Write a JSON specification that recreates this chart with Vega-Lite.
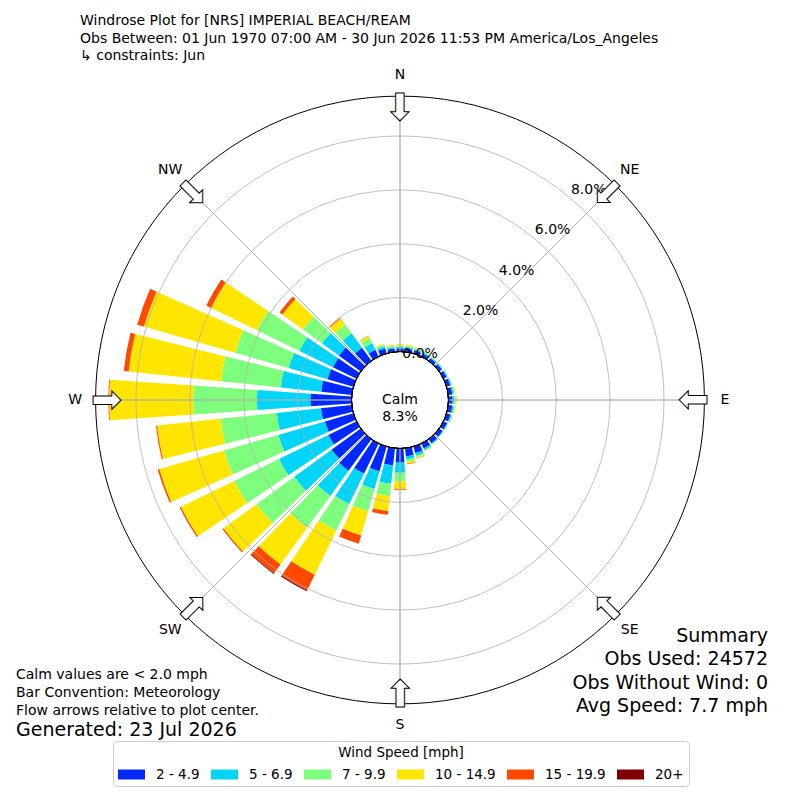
{
  "$schema": "https://vega.github.io/schema/vega-lite/v6.json",
  "width": 800,
  "height": 680,
  "padding": {"top": 60, "bottom": 60, "left": 0, "right": 0},
  "autosize": {"type": "none"},
  "background": "white",
  "config": {"view": {"stroke": null}, "font": "DejaVu Sans"},
  "title": {
    "text": ["Windrose Plot for [NRS] IMPERIAL BEACH/REAM", "Obs Between: 01 Jun 1970 07:00 AM - 30 Jun 2026 11:53 PM America/Los_Angeles", "\u2002↳ constraints: Jun"],
    "anchor": "start", "frame": "group", "dx": 80, "dy": 3, "offset": 0,
    "fontSize": 14, "fontWeight": "normal", "font": "DejaVu Sans", "color": "black", "lineHeight": 17.5
  },
  "datasets": {
    "wind": [
      {"dir": 0, "speed": "2 - 4.9", "pct": 0.12}, {"dir": 0, "speed": "5 - 6.9", "pct": 0.06}, {"dir": 0, "speed": "7 - 9.9", "pct": 0.04}, {"dir": 0, "speed": "10 - 14.9", "pct": 0.05},
      {"dir": 10, "speed": "2 - 4.9", "pct": 0.12}, {"dir": 10, "speed": "5 - 6.9", "pct": 0.06}, {"dir": 10, "speed": "7 - 9.9", "pct": 0.04}, {"dir": 10, "speed": "10 - 14.9", "pct": 0.04},
      {"dir": 20, "speed": "2 - 4.9", "pct": 0.12}, {"dir": 20, "speed": "5 - 6.9", "pct": 0.06}, {"dir": 20, "speed": "7 - 9.9", "pct": 0.03}, {"dir": 20, "speed": "10 - 14.9", "pct": 0.03},
      {"dir": 30, "speed": "2 - 4.9", "pct": 0.12}, {"dir": 30, "speed": "5 - 6.9", "pct": 0.05}, {"dir": 30, "speed": "7 - 9.9", "pct": 0.03}, {"dir": 30, "speed": "10 - 14.9", "pct": 0.02},
      {"dir": 40, "speed": "2 - 4.9", "pct": 0.12}, {"dir": 40, "speed": "5 - 6.9", "pct": 0.04}, {"dir": 40, "speed": "7 - 9.9", "pct": 0.02}, {"dir": 40, "speed": "10 - 14.9", "pct": 0.01},
      {"dir": 50, "speed": "2 - 4.9", "pct": 0.12}, {"dir": 50, "speed": "5 - 6.9", "pct": 0.04}, {"dir": 50, "speed": "7 - 9.9", "pct": 0.02}, {"dir": 50, "speed": "10 - 14.9", "pct": 0.01},
      {"dir": 60, "speed": "2 - 4.9", "pct": 0.13}, {"dir": 60, "speed": "5 - 6.9", "pct": 0.04}, {"dir": 60, "speed": "7 - 9.9", "pct": 0.02}, {"dir": 60, "speed": "10 - 14.9", "pct": 0.01},
      {"dir": 70, "speed": "2 - 4.9", "pct": 0.14}, {"dir": 70, "speed": "5 - 6.9", "pct": 0.05}, {"dir": 70, "speed": "7 - 9.9", "pct": 0.02}, {"dir": 70, "speed": "10 - 14.9", "pct": 0.01},
      {"dir": 80, "speed": "2 - 4.9", "pct": 0.15}, {"dir": 80, "speed": "5 - 6.9", "pct": 0.05}, {"dir": 80, "speed": "7 - 9.9", "pct": 0.04}, {"dir": 80, "speed": "10 - 14.9", "pct": 0.03},
      {"dir": 90, "speed": "2 - 4.9", "pct": 0.15}, {"dir": 90, "speed": "5 - 6.9", "pct": 0.07}, {"dir": 90, "speed": "7 - 9.9", "pct": 0.05}, {"dir": 90, "speed": "10 - 14.9", "pct": 0.04},
      {"dir": 100, "speed": "2 - 4.9", "pct": 0.15}, {"dir": 100, "speed": "5 - 6.9", "pct": 0.06}, {"dir": 100, "speed": "7 - 9.9", "pct": 0.04}, {"dir": 100, "speed": "10 - 14.9", "pct": 0.03},
      {"dir": 110, "speed": "2 - 4.9", "pct": 0.15}, {"dir": 110, "speed": "5 - 6.9", "pct": 0.05}, {"dir": 110, "speed": "7 - 9.9", "pct": 0.02}, {"dir": 110, "speed": "10 - 14.9", "pct": 0.02},
      {"dir": 120, "speed": "2 - 4.9", "pct": 0.15}, {"dir": 120, "speed": "5 - 6.9", "pct": 0.03}, {"dir": 120, "speed": "7 - 9.9", "pct": 0.02}, {"dir": 120, "speed": "10 - 14.9", "pct": 0.01},
      {"dir": 130, "speed": "2 - 4.9", "pct": 0.16}, {"dir": 130, "speed": "5 - 6.9", "pct": 0.03}, {"dir": 130, "speed": "7 - 9.9", "pct": 0.01}, {"dir": 130, "speed": "10 - 14.9", "pct": 0.01},
      {"dir": 140, "speed": "2 - 4.9", "pct": 0.18}, {"dir": 140, "speed": "5 - 6.9", "pct": 0.04}, {"dir": 140, "speed": "7 - 9.9", "pct": 0.02}, {"dir": 140, "speed": "10 - 14.9", "pct": 0.01},
      {"dir": 150, "speed": "2 - 4.9", "pct": 0.2}, {"dir": 150, "speed": "5 - 6.9", "pct": 0.07}, {"dir": 150, "speed": "7 - 9.9", "pct": 0.03}, {"dir": 150, "speed": "10 - 14.9", "pct": 0.02},
      {"dir": 160, "speed": "2 - 4.9", "pct": 0.25}, {"dir": 160, "speed": "5 - 6.9", "pct": 0.1}, {"dir": 160, "speed": "7 - 9.9", "pct": 0.06}, {"dir": 160, "speed": "10 - 14.9", "pct": 0.04}, {"dir": 160, "speed": "15 - 19.9", "pct": 0.01},
      {"dir": 170, "speed": "2 - 4.9", "pct": 0.3}, {"dir": 170, "speed": "5 - 6.9", "pct": 0.12}, {"dir": 170, "speed": "7 - 9.9", "pct": 0.08}, {"dir": 170, "speed": "10 - 14.9", "pct": 0.08}, {"dir": 170, "speed": "15 - 19.9", "pct": 0.02},
      {"dir": 180, "speed": "2 - 4.9", "pct": 0.53}, {"dir": 180, "speed": "5 - 6.9", "pct": 0.37}, {"dir": 180, "speed": "7 - 9.9", "pct": 0.32}, {"dir": 180, "speed": "10 - 14.9", "pct": 0.28}, {"dir": 180, "speed": "15 - 19.9", "pct": 0.03},
      {"dir": 190, "speed": "2 - 4.9", "pct": 0.64}, {"dir": 190, "speed": "5 - 6.9", "pct": 0.69}, {"dir": 190, "speed": "7 - 9.9", "pct": 0.46}, {"dir": 190, "speed": "10 - 14.9", "pct": 0.56}, {"dir": 190, "speed": "15 - 19.9", "pct": 0.13},
      {"dir": 200, "speed": "2 - 4.9", "pct": 0.95}, {"dir": 200, "speed": "5 - 6.9", "pct": 0.69}, {"dir": 200, "speed": "7 - 9.9", "pct": 0.86}, {"dir": 200, "speed": "10 - 14.9", "pct": 0.93}, {"dir": 200, "speed": "15 - 19.9", "pct": 0.32},
      {"dir": 210, "speed": "2 - 4.9", "pct": 1.24}, {"dir": 210, "speed": "5 - 6.9", "pct": 1.26}, {"dir": 210, "speed": "7 - 9.9", "pct": 1.1}, {"dir": 210, "speed": "10 - 14.9", "pct": 1.82}, {"dir": 210, "speed": "15 - 19.9", "pct": 0.64}, {"dir": 210, "speed": "20+", "pct": 0.04},
      {"dir": 220, "speed": "2 - 4.9", "pct": 1.45}, {"dir": 220, "speed": "5 - 6.9", "pct": 1.15}, {"dir": 220, "speed": "7 - 9.9", "pct": 1.46}, {"dir": 220, "speed": "10 - 14.9", "pct": 1.69}, {"dir": 220, "speed": "15 - 19.9", "pct": 0.4}, {"dir": 220, "speed": "20+", "pct": 0.03},
      {"dir": 230, "speed": "2 - 4.9", "pct": 1.34}, {"dir": 230, "speed": "5 - 6.9", "pct": 1.71}, {"dir": 230, "speed": "7 - 9.9", "pct": 1.73}, {"dir": 230, "speed": "10 - 14.9", "pct": 1.52}, {"dir": 230, "speed": "15 - 19.9", "pct": 0.05},
      {"dir": 240, "speed": "2 - 4.9", "pct": 1.16}, {"dir": 240, "speed": "5 - 6.9", "pct": 2.04}, {"dir": 240, "speed": "7 - 9.9", "pct": 1.85}, {"dir": 240, "speed": "10 - 14.9", "pct": 2.2}, {"dir": 240, "speed": "15 - 19.9", "pct": 0.05},
      {"dir": 250, "speed": "2 - 4.9", "pct": 1.1}, {"dir": 250, "speed": "5 - 6.9", "pct": 1.8}, {"dir": 250, "speed": "7 - 9.9", "pct": 2.1}, {"dir": 250, "speed": "10 - 14.9", "pct": 2.5}, {"dir": 250, "speed": "15 - 19.9", "pct": 0.06},
      {"dir": 260, "speed": "2 - 4.9", "pct": 1.15}, {"dir": 260, "speed": "5 - 6.9", "pct": 1.65}, {"dir": 260, "speed": "7 - 9.9", "pct": 2.1}, {"dir": 260, "speed": "10 - 14.9", "pct": 2.37}, {"dir": 260, "speed": "15 - 19.9", "pct": 0.04},
      {"dir": 270, "speed": "2 - 4.9", "pct": 1.53}, {"dir": 270, "speed": "5 - 6.9", "pct": 1.98}, {"dir": 270, "speed": "7 - 9.9", "pct": 2.36}, {"dir": 270, "speed": "10 - 14.9", "pct": 3.13}, {"dir": 270, "speed": "15 - 19.9", "pct": 0.03},
      {"dir": 280, "speed": "2 - 4.9", "pct": 1.14}, {"dir": 280, "speed": "5 - 6.9", "pct": 1.51}, {"dir": 280, "speed": "7 - 9.9", "pct": 2.23}, {"dir": 280, "speed": "10 - 14.9", "pct": 3.45}, {"dir": 280, "speed": "15 - 19.9", "pct": 0.18},
      {"dir": 290, "speed": "2 - 4.9", "pct": 1.0}, {"dir": 290, "speed": "5 - 6.9", "pct": 1.5}, {"dir": 290, "speed": "7 - 9.9", "pct": 2.07}, {"dir": 290, "speed": "10 - 14.9", "pct": 3.52}, {"dir": 290, "speed": "15 - 19.9", "pct": 0.26},
      {"dir": 300, "speed": "2 - 4.9", "pct": 0.97}, {"dir": 300, "speed": "5 - 6.9", "pct": 1.38}, {"dir": 300, "speed": "7 - 9.9", "pct": 1.75}, {"dir": 300, "speed": "10 - 14.9", "pct": 1.9}, {"dir": 300, "speed": "15 - 19.9", "pct": 0.2},
      {"dir": 310, "speed": "2 - 4.9", "pct": 1.0}, {"dir": 310, "speed": "5 - 6.9", "pct": 0.78}, {"dir": 310, "speed": "7 - 9.9", "pct": 0.87}, {"dir": 310, "speed": "10 - 14.9", "pct": 0.95}, {"dir": 310, "speed": "15 - 19.9", "pct": 0.13},
      {"dir": 320, "speed": "2 - 4.9", "pct": 0.6}, {"dir": 320, "speed": "5 - 6.9", "pct": 0.66}, {"dir": 320, "speed": "7 - 9.9", "pct": 0.4}, {"dir": 320, "speed": "10 - 14.9", "pct": 0.28}, {"dir": 320, "speed": "15 - 19.9", "pct": 0.03},
      {"dir": 330, "speed": "2 - 4.9", "pct": 0.28}, {"dir": 330, "speed": "5 - 6.9", "pct": 0.27}, {"dir": 330, "speed": "7 - 9.9", "pct": 0.22}, {"dir": 330, "speed": "10 - 14.9", "pct": 0.08}, {"dir": 330, "speed": "15 - 19.9", "pct": 0.01},
      {"dir": 340, "speed": "2 - 4.9", "pct": 0.2}, {"dir": 340, "speed": "5 - 6.9", "pct": 0.08}, {"dir": 340, "speed": "7 - 9.9", "pct": 0.05}, {"dir": 340, "speed": "10 - 14.9", "pct": 0.04},
      {"dir": 350, "speed": "2 - 4.9", "pct": 0.12}, {"dir": 350, "speed": "5 - 6.9", "pct": 0.06}, {"dir": 350, "speed": "7 - 9.9", "pct": 0.04}, {"dir": 350, "speed": "10 - 14.9", "pct": 0.04}
    ],
    "ticks": [{"ring": 0}, {"ring": 2}, {"ring": 4}, {"ring": 6}, {"ring": 8}],
    "compass": [
      {"dir": 0, "label": "N"}, {"dir": 45, "label": "NE"}, {"dir": 90, "label": "E"}, {"dir": 135, "label": "SE"},
      {"dir": 180, "label": "S"}, {"dir": 225, "label": "SW"}, {"dir": 270, "label": "W"}, {"dir": 315, "label": "NW"}
    ],
    "notes": [{"line": "Calm values are < 2.0 mph"}, {"line": "Bar Convention: Meteorology"}, {"line": "Flow arrows relative to plot center."}],
    "summary": [{"line": "Summary"}, {"line": "Obs Used: 24572"}, {"line": "Obs Without Wind: 0"}, {"line": "Avg Speed: 7.7 mph"}]
  },
  "layer": [
    {
      "data": {"name": "wind"},
      "transform": [
        {"calculate": "indexof(['2 - 4.9', '5 - 6.9', '7 - 9.9', '10 - 14.9', '15 - 19.9', '20+'], datum.speed)", "as": "order"},
        {"stack": "pct", "groupby": ["dir"], "sort": [{"field": "order"}], "as": ["r0", "r1"]},
        {"calculate": "datum.dir - 4", "as": "t0"},
        {"calculate": "datum.dir + 4", "as": "t1"}
      ],
      "mark": {"type": "arc"},
      "encoding": {
        "theta": {"field": "t0", "type": "quantitative", "scale": {"domain": [0, 360], "range": [0, 6.283185307179586]}},
        "theta2": {"field": "t1"},
        "radius": {"field": "r1", "type": "quantitative", "stack": null, "scale": {"type": "linear", "domain": [0, 8], "range": [48.5, 264], "zero": false, "nice": false}},
        "radius2": {"field": "r0"},
        "color": {
          "field": "speed", "type": "nominal",
          "scale": {
            "domain": ["2 - 4.9", "5 - 6.9", "7 - 9.9", "10 - 14.9", "15 - 19.9", "20+"],
            "range": ["#0028ff", "#00d4f8", "#7dff7d", "#ffe600", "#ff4800", "#800000"]
          },
          "legend": {
            "orient": "none", "legendX": 113, "legendY": 681, "direction": "horizontal", "columns": 6,
            "title": "Wind Speed [mph]", "titleAnchor": "middle", "titleFontSize": 13.5, "titleFontWeight": "normal",
            "titleColor": "black", "titleFont": "DejaVu Sans", "titlePadding": 1.5,
            "labelFontSize": 13.5, "labelColor": "black", "labelFont": "DejaVu Sans", "labelOffset": 11,
            "symbolType": "M-1,-0.37H1V0.37H-1Z", "symbolSize": 729, "symbolStrokeWidth": 0,
            "columnPadding": 11, "padding": 5, "strokeColor": "#cccccc", "fillColor": "white", "cornerRadius": 4
          }
        }
      }
    },
    {
      "data": {"name": "ticks"},
      "transform": [{"filter": "datum.ring > 0"}],
      "mark": {"type": "arc", "filled": false, "stroke": "#b0b0b0", "strokeWidth": 0.8, "theta": 0, "theta2": 6.2832},
      "encoding": {
        "radius": {"field": "ring", "type": "quantitative", "stack": null, "scale": {"type": "linear", "domain": [0, 8], "range": [48.5, 264], "zero": false, "nice": false}}
      }
    },
    {
      "data": {"name": "compass"},
      "mark": {"type": "arc", "filled": false, "stroke": "#b0b0b0", "strokeWidth": 0.8},
      "encoding": {
        "theta": {"field": "dir", "type": "quantitative", "scale": {"domain": [0, 360], "range": [0, 6.283185307179586]}},
        "theta2": {"field": "dir"},
        "radius": {"datum": 9.48, "type": "quantitative", "stack": null, "scale": {"type": "linear", "domain": [0, 8], "range": [48.5, 264], "zero": false, "nice": false}},
        "radius2": {"datum": 0}
      }
    },
    {
      "data": {"values": [{}]},
      "mark": {"type": "arc", "filled": false, "stroke": "black", "strokeWidth": 1, "theta": 0, "theta2": 6.2832},
      "encoding": {
        "radius": {"datum": 9.48, "type": "quantitative", "stack": null, "scale": {"type": "linear", "domain": [0, 8], "range": [48.5, 264], "zero": false, "nice": false}}
      }
    },
    {
      "data": {"values": [{}]},
      "mark": {"type": "arc", "fill": "white", "stroke": "black", "strokeWidth": 1, "theta": 0, "theta2": 6.2832},
      "encoding": {
        "radius": {"datum": 0, "type": "quantitative", "stack": null, "scale": {"type": "linear", "domain": [0, 8], "range": [48.5, 264], "zero": false, "nice": false}}
      }
    },
    {
      "data": {"values": [{"label": "Calm", "pct": 8.3}]},
      "transform": [{"calculate": "[datum.label, format(datum.pct, '.1f') + '%']", "as": "txt"}],
      "mark": {"type": "text", "fontSize": 14, "font": "DejaVu Sans", "color": "black", "align": "center", "baseline": "middle", "lineHeight": 17},
      "encoding": {"text": {"field": "txt"}, "theta": {"value": 0}, "radius": {"value": 0}}
    },
    {
      "data": {"name": "ticks"},
      "transform": [{"filter": "datum.ring > 0"}, {"calculate": "format(datum.ring, '.1f') + '%'", "as": "txt"}],
      "mark": {"type": "text", "fontSize": 14, "font": "DejaVu Sans", "color": "black", "theta": 0.733, "radiusOffset": 18},
      "encoding": {
        "radius": {"field": "ring", "type": "quantitative", "scale": {"type": "linear", "domain": [0, 8], "range": [48.5, 264], "zero": false, "nice": false}},
        "text": {"field": "txt"}
      }
    },
    {
      "data": {"name": "ticks"},
      "transform": [{"filter": "datum.ring == 0"}, {"calculate": "format(datum.ring, '.1f') + '%'", "as": "txt"}],
      "mark": {"type": "text", "fontSize": 14, "font": "DejaVu Sans", "color": "black", "theta": 0.41, "radiusOffset": 2},
      "encoding": {
        "radius": {"field": "ring", "type": "quantitative", "scale": {"type": "linear", "domain": [0, 8], "range": [48.5, 264], "zero": false, "nice": false}},
        "text": {"field": "txt"}
      }
    },
    {
      "data": {"name": "compass"},
      "mark": {"type": "text", "fontSize": 14, "font": "DejaVu Sans", "color": "black"},
      "encoding": {
        "theta": {"field": "dir", "type": "quantitative", "scale": {"domain": [0, 360], "range": [0, 6.283185307179586]}},
        "radius": {"datum": 10.26, "type": "quantitative", "scale": {"type": "linear", "domain": [0, 8], "range": [48.5, 264], "zero": false, "nice": false}},
        "text": {"field": "label"}
      }
    },
    {
      "data": {"name": "compass"},
      "mark": {"type": "text", "text": "⬇", "fontSize": 37, "font": "DejaVu Sans", "fill": "white", "stroke": "black", "strokeWidth": 1, "align": "center", "baseline": "middle"},
      "encoding": {
        "theta": {"field": "dir", "type": "quantitative", "scale": {"domain": [0, 360], "range": [0, 6.283185307179586]}},
        "radius": {"datum": 9.0, "type": "quantitative", "scale": {"type": "linear", "domain": [0, 8], "range": [48.5, 264], "zero": false, "nice": false}},
        "angle": {"field": "dir", "type": "quantitative", "scale": null}
      }
    },
    {
      "data": {"name": "notes"},
      "mark": {"type": "point", "opacity": 0},
      "encoding": {
        "shape": {
          "field": "line", "type": "nominal",
          "scale": {"domain": ["Calm values are < 2.0 mph", "Bar Convention: Meteorology", "Flow arrows relative to plot center."]},
          "legend": {
            "orient": "none", "legendX": 16, "legendY": 608, "padding": 0,
            "title": "Generated: 23 Jul 2026", "titleOrient": "bottom", "titleFontSize": 19, "titleFontWeight": "normal",
            "titleColor": "black", "titleFont": "DejaVu Sans", "titlePadding": 3, "titleLimit": 600,
            "labelFontSize": 14, "labelFont": "DejaVu Sans", "labelColor": "black", "labelOffset": -14, "labelLimit": 600,
            "symbolSize": 0, "symbolOpacity": 0, "symbolStrokeWidth": 0, "rowPadding": 4
          }
        }
      }
    },
    {
      "data": {"name": "summary"},
      "mark": {"type": "point", "opacity": 0},
      "encoding": {
        "strokeDash": {
          "field": "line", "type": "nominal",
          "scale": {"domain": ["Summary", "Obs Used: 24572", "Obs Without Wind: 0", "Avg Speed: 7.7 mph"]},
          "legend": {
            "orient": "none", "legendX": 749, "legendY": 566, "padding": 0, "title": null,
            "labelFontSize": 19, "labelFont": "DejaVu Sans", "labelColor": "black", "labelOffset": 0, "labelLimit": 600,
            "labelAlign": "right",
            "symbolSize": 0, "symbolOpacity": 0, "symbolStrokeWidth": 0, "rowPadding": 3.6
          }
        }
      }
    }
  ]
}
